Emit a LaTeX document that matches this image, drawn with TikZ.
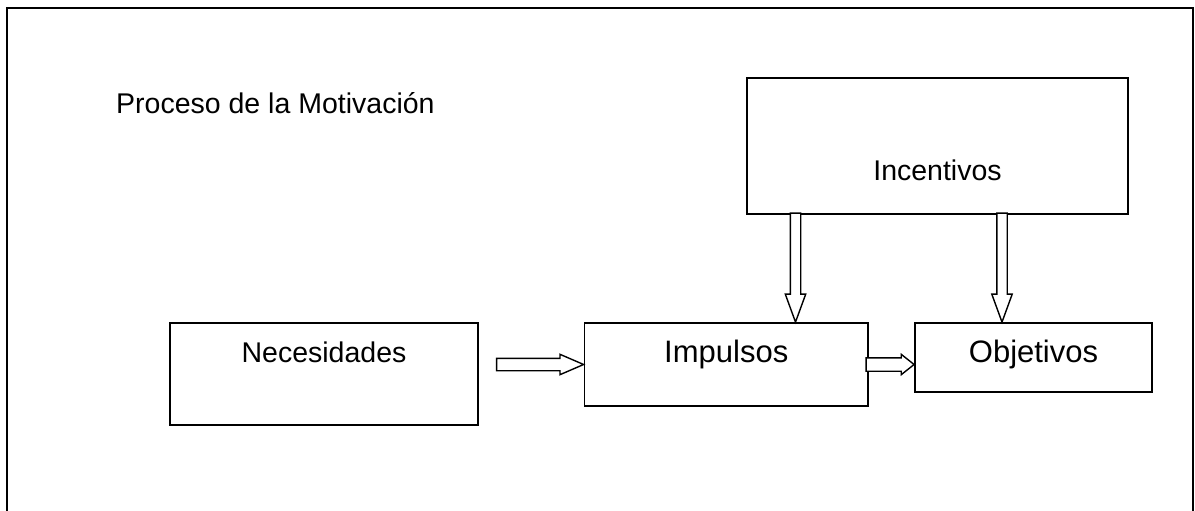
\documentclass[tikz,border=0pt]{standalone}
\usepackage{fontspec}
\setmainfont{Liberation Sans}
\usetikzlibrary{shapes.arrows}

\begin{document}
\begin{tikzpicture}[x=1pt, y=-1pt,
  box/.style={draw=black, line width=1.8pt, inner sep=0pt, anchor=base, font=\fontsize{28.5}{34}\selectfont},
  bigbox/.style={box, font=\fontsize{31}{37}\selectfont},
  blk/.style={single arrow, draw=black, line width=1.4pt, fill=white, inner sep=0pt, outer sep=0pt, anchor=tip}]
  \useasboundingbox (0,0) rectangle (1195,511);
  % frame, open at the bottom
  \draw[line width=2pt] (7,511) -- (7,8) -- (1193,8) -- (1193,511);
  \node[anchor=base west, inner sep=0pt, font=\fontsize{28.5}{34}\selectfont] (title) at (116,113.3) {Proceso de la Motivación};
  % boxes
  \node[box, minimum width=381pt, text height=102.7pt, text depth=33.3pt] (inc) at (937.5,180.7) {Incentivos};
  \node[box, minimum width=308pt, text height=39pt, text depth=63pt] (nec) at (324,362) {Necesidades};
  \node[bigbox, minimum width=283.5pt, text height=39pt, text depth=44pt] (imp) at (726.25,362) {Impulsos};
  \node[bigbox, minimum width=237pt, text height=39pt, text depth=30pt] (obj) at (1033.5,362) {Objetivos};
  % block arrows
  \node[blk, minimum height=87pt, inner ysep=5.5pt, single arrow head extend=4pt, single arrow tip angle=46.7] (a1) at (imp.west) {};
  \node[blk, minimum height=48pt, inner ysep=6pt, single arrow head extend=3.5pt, single arrow tip angle=76.7] (a2) at (obj.west |- imp.east) {};
  \node[blk, rotate=-90, minimum height=109pt, inner ysep=4.5pt, single arrow head extend=5pt, single arrow tip angle=40.1] (d1) at (795.5,0 |- imp.north) {};
  \node[blk, rotate=-90, minimum height=109pt, inner ysep=4.5pt, single arrow head extend=5pt, single arrow tip angle=40.1] (d2) at (1002,0 |- obj.north) {};
\end{tikzpicture}
\end{document}
